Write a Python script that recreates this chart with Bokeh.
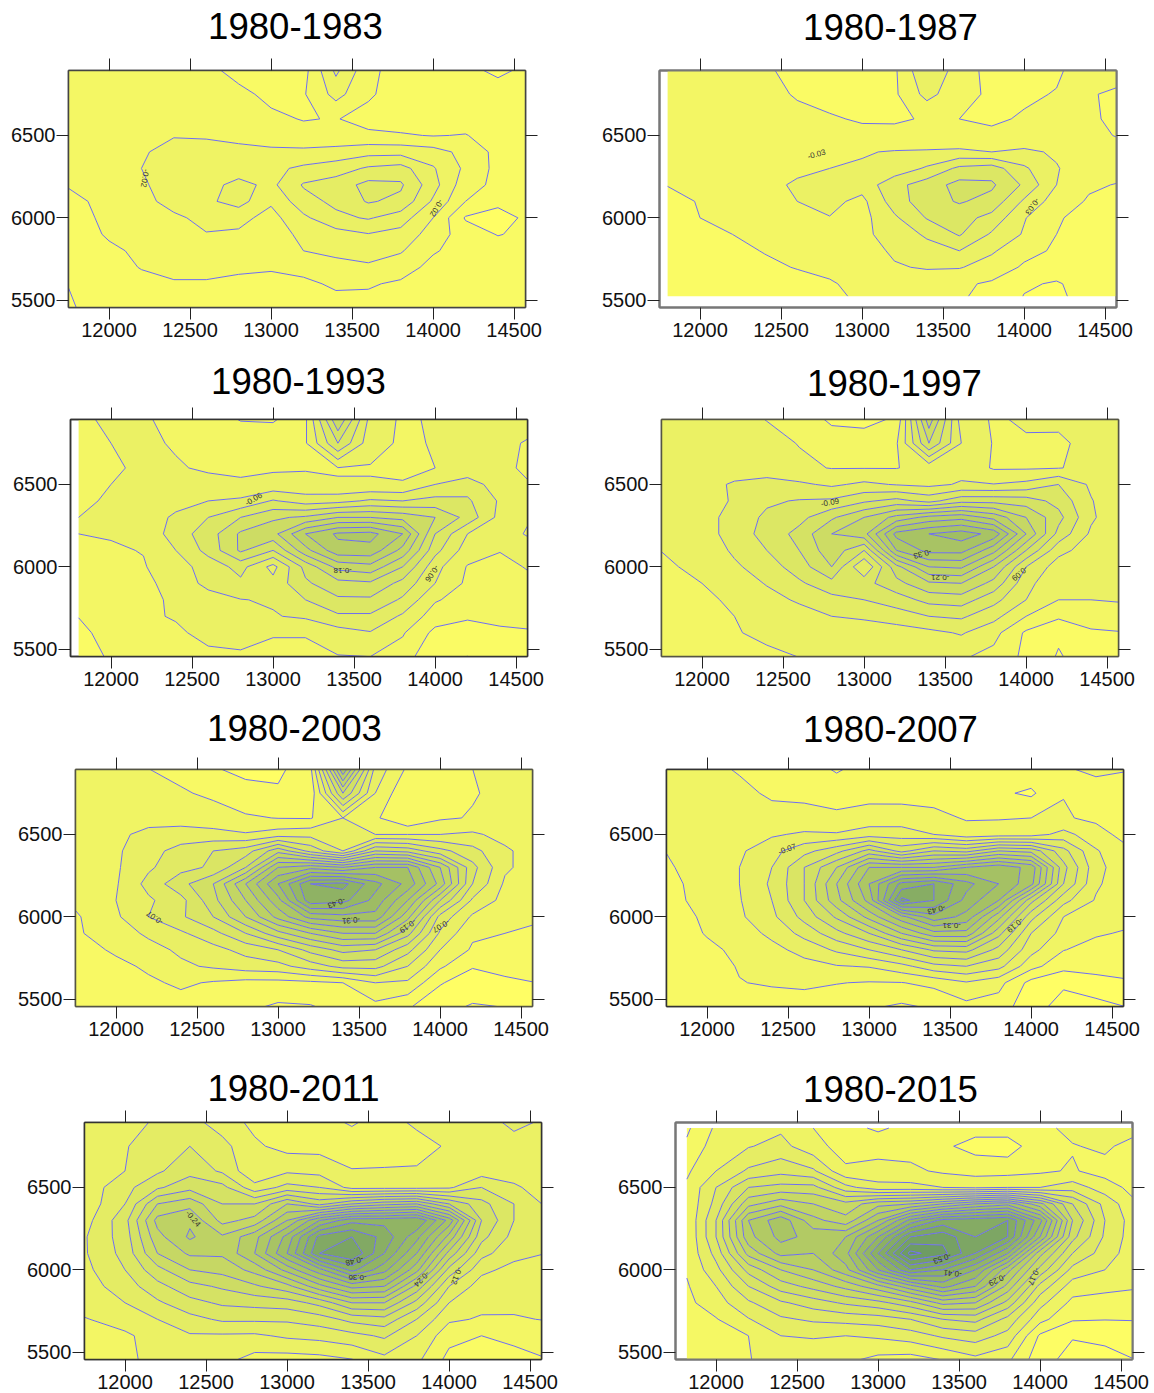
import numpy as np
from bokeh.plotting import figure
from bokeh.layouts import column, row
from bokeh.models import LinearAxis, FixedTicker, Range1d, ColumnDataSource
from bokeh.embed import file_html
from bokeh.resources import INLINE
from bokeh.core.properties import value

TITLES = ["1980-1983","1980-1987","1980-1993","1980-1997","1980-2003","1980-2007","1980-2011","1980-2015"]
X_TICKS = [12000,12500,13000,13500,14000,14500]
Y_TICKS = [5500,6000,6500]
GRID_X = [11740,12000,12200,12400,12600,12800,13000,13200,13400,13600,13800,14000,14200,14400,14600]
GRID_Y = [6900,6750,6600,6500,6400,6300,6200,6100,6000,5900,5800,5700,5600,5450]

# lowering in hundredths (label value = -depth/100); rows run from GRID_Y top to bottom
D1 = [[1,1,1,1,.5,-.7,-1,-.8,4.5,.6,-1,-1,-1.5,-2.5,-1.5],
[1,1,1,1,1,.5,-.5,-.2,2.7,.3,-1,-1,-1,-1,-1],
[1,1,1,1,1,1,.4,-.1,.1,-.7,-1,-1,-1,-1,-1],
[.8,1,1.2,1.9,1.8,1.5,1,.7,.4,.4,.2,-.1,.1,-1,-1.5],
[.7,1,1.8,2.6,2.7,2.5,2.4,2.4,2.8,3.3,3.3,2.8,1.4,-.6,-1.5],
[.6,.9,2,2.9,3,3,3.5,4.4,5,6.3,6.8,4.2,1.6,-.6,-1.5],
[.1,.8,1.7,3,3.3,4.6,3.5,6.2,7,8.6,8.3,4.8,.8,-.5,-1.5],
[-.6,.6,1.3,2.8,3.6,4.8,2.3,5.2,6.5,8.2,7.5,3.7,0,-1.5,-1.5],
[-1,.5,1,1.6,2.6,2.6,1.3,3.6,5.5,6.2,5,2,-2.2,-2.8,-1.5],
[-1,.2,.8,1.2,1.9,1.7,1,2.5,3.2,3.9,3.3,1.1,-1,-2.1,-1.5],
[-1,-.3,.3,.7,1,.9,.8,2,2.5,2.8,2.2,.2,-.8,-1,-1],
[-1,-.8,.1,.3,.3,.3,.1,.6,1.3,1.7,.9,-.6,-1,-1,-1],
[-2,-1,-.6,-.1,-.1,-.4,-.3,-.4,.3,.2,-.3,-1,-1,-1,-1],
[-2.3,-1,-1,-1,-1,-1,-1,-1,-.8,-.7,-1,-1,-1,-1,-1]]
D2 = [[1,1,1.2,.3,-.7,-1.5,-1.8,-.5,6,1.5,-1,-1,-.3,1,1],
[1,1,1.2,1,-.3,-1,-1,-.5,4,1,-.5,-.3,.1,.2,-.5],
[1,1.2,1.3,1.2,.9,.3,-.3,-.3,.2,0,-.3,.2,1,.3,-.5],
[1,1.1,1.2,1.3,.9,0,.8,.7,.3,.1,.4,.7,1.3,.8,-.3],
[1,1.1,1.3,1.5,2,2.7,2.8,3.2,3.4,3.7,3,3.6,2.6,1.2,1],
[1,1.1,1.3,1.7,2.4,3,3.3,4.2,6.4,9.7,10.5,6.5,3.2,1.2,1],
[.1,.9,1.5,2.2,3.4,3.8,4.2,8,10.5,13,12.5,8.5,3,.4,-.2],
[-1,.2,.9,1.6,3,3.8,2.2,7.5,10.7,12.3,11,5.5,1.5,-.3,-.9],
[-1,0,.6,1.3,2.8,2.9,2,5.5,9.2,10.2,8,3.2,.3,-1,-1],
[-1,-.5,0,.7,1.5,2.8,2.2,4.5,6.4,9.3,5.6,2.7,0,-1,-1],
[-1,-1,-.5,.1,.6,1,1.6,3.5,5,6,3.4,.9,-.4,-1,-1],
[-1,-1,-1,-.4,.1,.5,.8,2.7,3.3,3.2,1.7,-.4,-1.5,-1,-1],
[-1.2,-1.2,-1.2,-1,-.7,-.2,.6,.8,1,.5,-.4,-2.6,-3.3,-1.7,-1.5],
[-1.3,-1.3,-1.3,-1.2,-1,-.5,.4,.6,.6,.2,-.5,-3.1,-3.5,-2,-1.7]]
D3 = [[2,4,3.3,2.2,1.8,-.3,-.5,2.5,18,5,2.5,3.4,4,4,4],
[2,3,3.4,2.8,2.3,2.5,2.5,2.7,12,4.2,2.5,3.2,4,3.7,2.6],
[2.3,2.6,3.5,3.2,2.7,2.6,2.7,2.8,2.9,2.8,2.7,3,3.9,3.5,2.5],
[2.5,3,3.6,3.8,3.7,3.3,3.8,3.8,3.1,3.2,3.1,6,7.5,4.5,3],
[2.7,3.2,4,4.6,6,6.6,9.3,7.5,8,9.5,9,10,9.5,5.6,3],
[3,3.2,3.8,6.7,9,12,14.5,15.5,18,18,17,15,11,5,3],
[3,3.2,3.6,7.5,10.5,15.5,17,24,27.5,28,24,12,6,3.5,2.8],
[2.3,2.7,3.1,6,10,15.5,12,20,26,26,20,10,4.5,3.1,3.4],
[2,2.4,2.8,4.7,7.3,10,5,13,19,20,15,7,2.8,2.3,3.3],
[1.8,2,2.5,3.8,7,8.4,7,11.5,14,14.5,11,6,2.4,2.2,2.6],
[1.8,1.9,2.2,3.5,4.5,5.9,6.3,9,11.5,11.5,8.5,3.3,1.7,1.6,2.2],
[.1,1.8,2.6,3.2,3.8,4.3,5.8,6.5,8.5,8.5,5.5,1.5,.3,.9,1.2],
[-1,1.5,2,2.6,3.7,3.9,3.1,3.1,4.7,5.8,3.3,-.8,-1,-.6,-.3],
[-2,.5,1.5,2,2.4,2.6,2.6,2.6,2.8,2.9,1.5,-2.7,-3.1,-1.5,-1]]
D4 = [[3.5,3.5,3.8,2.9,2.2,-.8,-1.5,.5,20,4.5,2.7,3.4,3.5,4,4],
[3.5,3.5,3.8,3.8,2.9,2,2.3,2.7,15,6,2.8,2.7,2.6,3.7,3.9],
[3.5,3.6,4,4.3,3.5,2.9,2.9,2.9,4,5,2.7,2.7,2.9,3.6,3.7],
[3.5,4.5,6.5,7.2,6.5,5.5,6.6,5.8,5.3,6.3,6.1,6.8,9,5.5,3.5],
[3.6,4.3,6.4,8.6,9.2,9.5,11.5,13,11,14,14,13.5,11,6.2,3.5],
[3.7,4.4,7.5,9.5,11,14.5,18,22,25,26,23,18,13,6.5,3.5],
[3.5,4.4,7.5,10,13,18,20,31,33,34.5,32,21,11,5.5,3.7],
[3,4,6.5,9,12,17,12,27,31,31,25,15,7,4.5,3.8],
[2.6,3.5,5.5,7.5,10.5,15,6,17,24,24.5,18,9,4.5,3.8,3.6],
[1.8,3,4.4,6.2,8.5,11,11,14,17.5,18,14,7,3.5,3.3,3.5],
[1.6,2.4,3.5,5,6.4,8,9,10.5,13,13.5,10,6,3,3,3.3],
[1.5,2.2,3,4,4.8,6,6.5,7.5,9,9.5,7,3,.5,1,1.5],
[1,1.8,2.9,3.3,3.9,4,4.2,4.5,5.2,6.3,4,-.5,-2.5,-.3,-.1],
[.8,1.5,2.2,2.7,3,3.2,3.3,3.5,3.4,3.3,2,-.7,-3.3,-1.5,-.5]]
D5 = [[2,2,1,.2,-1.8,-2.8,-2.8,.3,28,6,.5,.2,1,2,2],
[2.2,2.2,2,1.3,.5,-1,-1.5,-1,16,4,-1.8,.3,.8,1.7,1.5],
[2.5,2.6,2.6,2.5,2.2,1.4,.9,.8,4,1.5,-2,.6,1.2,1.8,1],
[2.2,3.2,5,5.5,5,4.3,5.5,6,5,4,4,4,4.5,3,2],
[2.8,3.5,6,8,10,11.5,18,12,7,16,15,11,8,4.5,2.5],
[2.8,3.6,6.5,9,10.5,16,28,30,28,31,31,22,11,4.5,2.5],
[2.5,3.7,8,12,16,25,34,43,44,38,33,24,10,3.5,3],
[1.5,4,6.5,9,15,22,30,42,41,36,28,16,6.5,3,2.5],
[.5,3.5,7,9.5,13,19,26,32,33,33,23,9,3.5,2.5,1.5],
[.5,2.6,4.5,6.5,9,13,18,22,25,25,17,6.5,1.5,1,.3],
[-.5,1.5,3,4.5,6,8,10,14,17,16,11,4,.6,-.5,-1],
[-1,.2,1.5,3.5,4.4,5.5,6,8.5,11,11,7,1.5,-1.7,-1.2,-1],
[-1.5,-.7,.5,1.5,.7,0,0,.3,1,4,3.5,-1.7,-4,-2.5,-2],
[-2,-1,-.5,-.3,-.7,-1.5,-2.5,-2.3,-1,0,-1.7,-4.5,-5.2,-5,-3.5]]
D6 = [[1.5,1.5,.8,0,-.3,-2.5,-.5,-.3,-.2,-.2,0,0,.8,1.5,1.4],
[1.5,1.5,1.5,.7,.6,.2,0,-.1,0,-.5,-1.5,-2.5,.9,0,-2.2],
[1.6,1.6,1.7,1.7,1.6,1.4,2.3,2.4,1.7,.8,.8,1,1.3,.4,-1.5],
[1.5,2.2,3,3.6,4.5,4.3,5.5,5.4,4,2,2.5,2.7,5,2.2,-.2],
[1,2.5,3.5,6,9,12,17,12,16,15,19,18,11,4.3,1.5],
[.5,2.6,4,7,13,19,28,28,28,31,33,30,14,5,1.8],
[0,2.3,4,7.5,13,22,31,41,43,38,34,29,13,4.5,1.8],
[0,2,3.8,7,13,21,29,47,43,36,31,17,8,3.7,1.8],
[-.5,1.5,3.5,6.3,11,16.5,23,30,36,33,23,11,4,2.4,1.8],
[-.8,1.2,2.5,4.7,8,12,16,22,27,27,17,7,3,1.3,.7],
[-1,.4,1.6,3.1,5,7.5,10,13,16.5,17,12,5,1.1,0,-.3],
[-1,-.2,1.2,2.2,3,3.8,4.2,6,9,10,8,2,-1,-.7,-.6],
[-1.2,-.8,.9,1.3,1.5,1.1,.8,.9,1.8,3.7,2,-3,-4.6,-3.3,-2.4],
[-1.5,-1.2,-.8,-.5,-.3,-.6,-1.7,-2.6,-1.7,0,-.5,-4,-6,-6,-5]]
D7 = [[4,4.5,6.5,7,4.5,2.2,1.5,1.2,-.5,1.5,3.8,4,4.5,7,5.5],
[4,5.8,7.5,9,7,3.5,2,2,2,1.8,1.5,3.5,4,4.5,4.5],
[4,6,8.5,11,8.5,3.5,5.5,5,3.1,3.2,3.4,4,4.5,4.5,4.5],
[4,8,11.5,14,13,7,10,9,5,5,5,5.5,9,6.5,4.5],
[3.8,9,18,20,15,15,21,17,21,23,24,18,13,9,5.5],
[4.5,11,22,23.5,17,19,27,36,41,41,42,32,15,9,6.5],
[5.5,10.5,20,24.5,21.5,26,34,46,48,44,37,26,13,8,6.3],
[5.5,10,18,21.5,21.5,27,36,48,51,42,33,20,10,7,6],
[5,9,14,18,19,22,28,35,43,37,28,14,6.8,5,4.5],
[4.5,7.5,11,14,15.5,17.5,20,26,31,30,20,9,4.5,4,3.5],
[4,6,8.5,11,12.5,13,13.5,16,21,21,14,6,3.8,3.5,3.2],
[2.8,4,6,8,9.5,9.5,9.5,10.5,13,14,9,3.5,2.7,2.8,3.1],
[2,2.6,4,5.7,5.6,5.5,6.5,7,8,9.5,6,1,0,1.2,1.8],
[1.5,2.3,4,5.3,3.8,1.8,1.5,1.8,2.7,5,3.6,-1,-2.5,-1.7,-.2]]
D8 = [[-1.5,2.5,4,4.5,2,0,-1.5,0,0,0,.5,1,3,3.5,3],
[-.5,3.5,4.8,6,3,.8,.9,.9,-.5,-2,-2.5,1,1.8,2.6,.5],
[1.5,5,8.5,10,8.5,2.5,3,2.6,1.5,.8,.9,1.5,2.3,.8,-.3],
[2.5,8,14,15,15,9,6,6,5,4.5,5,5,6.5,3.5,.7],
[2.5,9,19,22,20,18,22,23,26,29,31,24,14,7,2.2],
[2.3,11,26,31,24,21,29,39,45,46,47,36,17,8,3],
[2.2,11,25,30,28,29,38,50,52,47,47,32,15,7.5,3],
[2.5,9,21,27,26,31,44,57,54,47,38,21,11,6.5,3],
[2.3,7,15,20,23,28,38,47,44,38,27,16,7,5,3],
[1.7,5,11,15.5,18,21,25,31,36,32,22,10,3.5,2.8,2.2],
[1.3,3.6,7.5,10.5,12.5,14.5,16,19,24,23,16,6,1.2,.8,1],
[.5,1.8,4.8,7.5,8.5,9,9.5,11,14,15,10,3,-.7,-.9,-.8],
[-.5,.2,2,5,5.3,5,5.5,6.5,8.5,9.5,7,-1.5,-3.8,-3.3,-3],
[-1,-.5,1.8,3.7,2.8,2.5,1,.5,1.9,4,2.5,-3,-5,-5,-4]]
DEPTHS = [D1,D2,D3,D4,D5,D6,D7,D8]

LEVELS = [list(range(-2,11,2)), list(range(-3,13,3)), list(range(-3,28,3)), list(range(-3,37,3)),
          list(range(-5,47,3)), list(range(-5,47,3)), list(range(0,52,3)), list(range(-4,57,3))]

LAB_X = [[12220,14020],[12720,14050],[12880,13430,13980],[12790,13360,13470,13960],
         [12240,13360,13450,13800,14005],[12495,13415,13510,13900],[12420,13415,13435,13830,14045],[13395,13460,13735,13960]]
LAB_Y = [[6240,6060],[6385,6070],[6410,5975,5960],[6390,6080,5935,5960],
         [5995,6085,5980,5945,5945],[6410,6045,5950,5950],[6310,6055,5955,5945,5965],[6070,5980,5940,5960]]
LAB_T = [["-0.02","-0.02"],["-0.03","-0.03"],["-0.06","-0.18","-0.06"],["-0.09","-0.33","-0.21","-0.09"],
         ["-0.07","-0.43","-0.31","-0.19","-0.07"],["-0.07","-0.43","-0.31","-0.19"],["-0.24","-0.48","-0.36","-0.24","-0.12"],["-0.53","-0.41","-0.29","-0.17"]]
LAB_A = [[-100,240],[15,235],[30,180,235],[10,195,180,220],[145,200,185,215,210],[20,195,180,220],[-50,195,180,225,250],[200,175,205,245]]

# layout, in page pixels
FRAME_L = [68,659,70,661,75,666,84,675]
FRAME_T = [70,70,419,419,769,768,1122,1122]
TITLE_CX = [295,890,298,894,294,890,293,890]
TITLE_CY = [25,26,380,382,727,728,1087,1088]
ROW_TOP = [0,350,700,1056]
BAND_BOTTOM = [52,406,754,1110]
ROW_BOTTOM = [350,700,1056,1393]
COL_LEFT = [0,590]
COL_RIGHT = [590,1154]
GRID_X0 = [11740,11800,11800,11740,11740,11740,11740,11820]
GRID_Y_TOP = [6900,6900,6900,6900,6900,6900,6900,6860]
GRID_Y_BOT = [5450,5525,5450,5450,5450,5450,5450,5450]
FRAME_C = ["#444444","#777777","#333333","#555544","#555544","#333333","#333333","#777777"]
FRAME_W = [1.5,2,1.5,1.5,1.5,1.5,1.5,2]

def color(d):
    r = min(255, 247-2.5*d); g = min(255, 249-1.7*d)
    return "#%02x%02x%02x" % (int(max(r,0)), int(max(g,0)), 100)

FW, FH = 457, 237
X0, X1, Y0, Y1 = 11750, 14570, 5456, 6894
figs = []
for i in range(8):
    r, c = i//2, i%2
    L, T = FRAME_L[i], FRAME_T[i]
    p = figure(width=COL_RIGHT[c]-COL_LEFT[c], height=ROW_BOTTOM[r]-BAND_BOTTOM[r],
               frame_width=FW, frame_height=FH, output_backend="svg", toolbar_location=None, tools="",
               x_range=Range1d(X0,X1), y_range=Range1d(Y0,Y1),
               min_border_left=L-COL_LEFT[c], min_border_right=COL_RIGHT[c]-L-FW,
               min_border_top=T-BAND_BOTTOM[r], min_border_bottom=ROW_BOTTOM[r]-T-FH,
               background_fill_color="white", border_fill_color="white",
               outline_line_color=FRAME_C[i], outline_line_width=FRAME_W[i])
    p.grid.visible = False
    xs = [GRID_X0[i]] + GRID_X[1:]
    ys = [GRID_Y_TOP[i]] + GRID_Y[1:-1] + [GRID_Y_BOT[i]]
    Z = -np.array(DEPTHS[i], dtype=float)[::-1]/100
    lv = [-10] + LEVELS[i] + [100]
    fills = [color((lv[k]+lv[k+1])/2 if 0 < k < len(lv)-2 else (lv[k]+1.5 if k else lv[1]-1.5)) for k in range(len(lv)-1)]
    zl = sorted(-v/100 for v in lv)
    p.contour(xs, ys[::-1], Z, zl, fill_color=fills[::-1], line_color="#6e6ef0", line_width=1)
    src = ColumnDataSource(dict(x=LAB_X[i], y=LAB_Y[i], t=LAB_T[i], a=LAB_A[i]))
    p.text("x","y",text="t",angle="a",angle_units="deg",source=src,text_font=value("Liberation Sans"),
           text_font_size="8px",text_align="center",text_baseline="middle",text_color="#333333")
    for ax, ticks in ((p.xaxis[0], X_TICKS),(p.yaxis[0], Y_TICKS)):
        ax.ticker = FixedTicker(ticks=ticks)
        ax.major_label_text_font = "Liberation Sans"
        ax.major_label_text_font_size = "20px"
        ax.major_label_text_color = "#111111"
        ax.major_tick_out, ax.major_tick_in = 12, 0
        ax.minor_tick_out, ax.minor_tick_in = 0, 0
        ax.axis_line_color = FRAME_C[i]
        ax.axis_line_width = FRAME_W[i]
        ax.major_tick_line_color = "#222222"
    p.xaxis[0].major_label_standoff = 3
    p.yaxis[0].major_label_standoff = 1
    top = LinearAxis(ticker=FixedTicker(ticks=X_TICKS), major_tick_out=12, major_tick_in=0, minor_tick_out=0, minor_tick_in=0,
                     axis_line_color=FRAME_C[i], axis_line_width=FRAME_W[i], major_tick_line_color="#222222",
                     major_label_overrides={t:"" for t in X_TICKS}, major_label_standoff=0)
    right = LinearAxis(ticker=FixedTicker(ticks=Y_TICKS), major_tick_out=12, major_tick_in=0, minor_tick_out=0, minor_tick_in=0,
                       axis_line_color=FRAME_C[i], axis_line_width=FRAME_W[i], major_tick_line_color="#222222",
                       major_label_overrides={t:"" for t in Y_TICKS}, major_label_standoff=0)
    p.add_layout(top, "above")
    p.add_layout(right, "right")
    figs.append(p)

rows = []
for r in range(4):
    h = BAND_BOTTOM[r]-ROW_TOP[r]
    band = figure(width=1154, height=h, output_backend="svg", toolbar_location=None, tools="",
                  x_range=Range1d(0,1154), y_range=Range1d(BAND_BOTTOM[r],ROW_TOP[r]),
                  x_axis_location=None, y_axis_location=None, min_border=0,
                  outline_line_color=None, background_fill_color="white", border_fill_color="white")
    band.grid.visible = False
    idx = [2*r, 2*r+1]
    band.text([TITLE_CX[k] for k in idx], [TITLE_CY[k] for k in idx], text=[TITLES[k] for k in idx],
              text_font=value("Liberation Sans"), text_font_size="36.6px", text_color="black",
              text_align="center", text_baseline="middle")
    rows.append(band)
    rows.append(row(figs[2*r], figs[2*r+1], spacing=0))

page = column(rows, spacing=0)
open("out.html","w").write(file_html(page, INLINE))
